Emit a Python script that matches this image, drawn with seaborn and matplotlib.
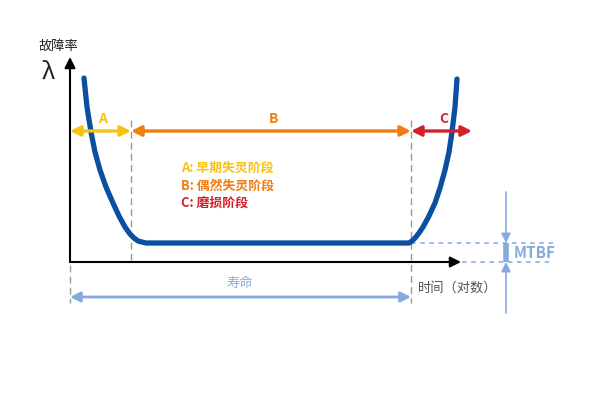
import matplotlib
matplotlib.use('Agg')
import matplotlib.pyplot as plt
import seaborn as sns
import pandas as pd

# bathtub curve (time, failure rate), origin at axis corner
curve_t = [14, 17, 21, 25, 30, 36, 43, 49, 55, 60, 64, 68, 72, 76, 80,
           335, 339, 342, 345, 349, 353, 359, 365, 370, 375, 379, 382, 385, 387]
curve_rate = [184, 155, 130, 110, 92, 75, 59, 46, 35, 28, 24, 21, 20, 19, 19,
              19, 19, 21, 24, 29, 35, 46, 59, 74, 92, 110, 130, 155, 183]

# phase boundaries on the time axis
phase_edges = [0, 61, 341, 402]
phase_names = ['A', 'B', 'C']
phase_colors = ['#f6c313', '#ef7d11', '#d1222b']
phase_legend = ['A: 早期失灵阶段', 'B: 偶然失灵阶段', 'C: 磨损阶段']

mtbf_level = 19
life_end = 341

sns.set_style('white')
plt.rcParams['font.family'] = ['Noto Sans CJK SC', 'DejaVu Sans']

fig = plt.figure(figsize=(6, 4.17), dpi=100)
ax = fig.add_axes([0, 0, 1, 1])
ax.set_xlim(-70, 530)
ax.set_ylim(-155, 262)
ax.axis('off')

blue = '#0b4fa2'
light = '#86aade'
grey = '#9a9a9a'

# axes with arrows
ax.annotate('', xy=(0, 205), xytext=(0, 0),
            arrowprops=dict(arrowstyle='-|>', color='black', lw=1.5, mutation_scale=16,
                            shrinkA=0, shrinkB=0))
ax.annotate('', xy=(391, 0), xytext=(0, 0),
            arrowprops=dict(arrowstyle='-|>', color='black', lw=1.5, mutation_scale=16,
                            shrinkA=0, shrinkB=0))
ax.text(-12, 216, '故障率', fontsize=9.5, ha='center', va='center', color='#222222')
ax.text(-22, 190, 'λ', fontsize=17, ha='center', va='center', color='#222222',
        fontweight='light')

# dashed phase boundaries
ax.plot([phase_edges[1], phase_edges[1]], [142, 0], ls=(0, (5, 3)), color=grey, lw=1)
ax.plot([phase_edges[2], phase_edges[2]], [142, -41], ls=(0, (5, 3)), color=grey, lw=1)
ax.plot([0, 0], [-3, -41], ls=(0, (5, 3)), color=grey, lw=1)

# MTBF guide lines
ax.plot([phase_edges[2], 483], [mtbf_level, mtbf_level], ls=(0, (3, 3)), color=light, lw=1.1)
ax.plot([392, 483], [0, 0], ls=(0, (3, 3)), color=light, lw=1.1)

# curve
df = pd.DataFrame({'t': curve_t, 'rate': curve_rate})
sns.lineplot(data=df, x='t', y='rate', ax=ax, color=blue, lw=3.8, sort=False,
             solid_capstyle='round', solid_joinstyle='round')

# phase arrows
for i, name in enumerate(phase_names):
    x0, x1 = phase_edges[i], phase_edges[i + 1]
    ax.annotate('', xy=(x1, 131), xytext=(x0, 131),
                arrowprops=dict(arrowstyle='<|-|>', color=phase_colors[i], lw=2.4,
                                mutation_scale=15, shrinkA=0, shrinkB=0))
    ax.text((x0 + x1) / 2 + 2, 143, name, color=phase_colors[i], fontsize=10,
            fontweight='bold', ha='center', va='center')

for i, txt in enumerate(phase_legend):
    ax.text(111, 94 - 17.5 * i, txt, color=phase_colors[i], fontsize=9.3,
            fontweight='bold', ha='left', va='center')

# MTBF marker
ax.annotate('', xy=(436, mtbf_level), xytext=(436, 70),
            arrowprops=dict(arrowstyle='-|>', color=light, lw=1.2, mutation_scale=14,
                            shrinkA=0, shrinkB=0))
ax.annotate('', xy=(436, 0), xytext=(436, -51),
            arrowprops=dict(arrowstyle='-|>', color=light, lw=1.2, mutation_scale=14,
                            shrinkA=0, shrinkB=0))
ax.plot([436, 436], [mtbf_level, 0], color=light, lw=4, solid_capstyle='butt')
ax.text(444, 9, 'MTBF', color=light, fontsize=11, fontweight='bold', ha='left', va='center')

# life arrow
ax.annotate('', xy=(life_end, -35), xytext=(0, -35),
            arrowprops=dict(arrowstyle='<|-|>', color=light, lw=2, mutation_scale=15,
                            shrinkA=0, shrinkB=0))
ax.text(170, -21, '寿命', color=light, fontsize=9.5, ha='center', va='center')
ax.text(348, -26, '时间（对数）', color='#555555', fontsize=9.5, ha='left', va='center')

plt.savefig('out.png', dpi=100)
